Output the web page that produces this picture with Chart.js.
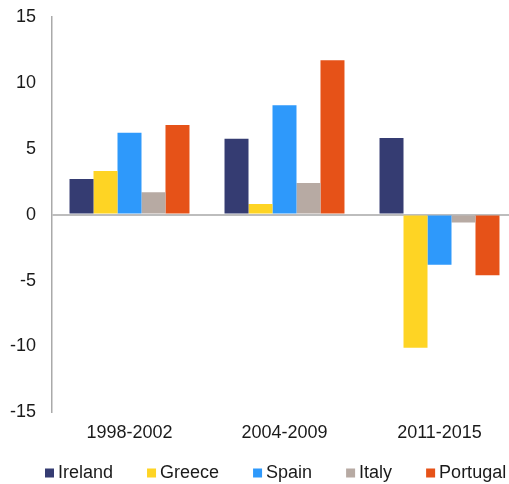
<!DOCTYPE html>
<html>
<head>
<meta charset="utf-8">
<script src="https://cdn.jsdelivr.net/npm/chart.js@4"></script>
<style>
  html, body { margin: 0; padding: 0; background: #fff; overflow: hidden; }
  #wrap { width: 509px; height: 484px; overflow: hidden; }
  #chart { display: block; margin-top: -10px; }
</style>
</head>
<body>
<div id="wrap"><canvas id="chart" width="517" height="494"></canvas></div>
<script>
// data
const periods = ["1998-2002", "2004-2009", "2011-2015"];
const countries = ["Ireland", "Greece", "Spain", "Italy", "Portugal"];
const ireland = [2.7, 5.75, 5.8];
const greece = [3.3, 0.8, -10.1];
const spain = [6.2, 8.3, -3.8];
const italy = [1.7, 2.4, -0.6];
const portugal = [6.8, 11.7, -4.6];
const yTicks = [-15, -10, -5, 0, 5, 10, 15];

const colors = ["#353c72", "#fed424", "#2e99fb", "#b7aaa3", "#e65218"];
const series = [ireland, greece, spain, italy, portugal];
const FONT = "'Liberation Sans', Arial, sans-serif";

// small legend drawn by hand so spacing matches
const legendPlugin = {
  id: "bottomLegend",
  afterDraw(chart) {
    const ctx = chart.ctx;
    ctx.save();
    ctx.font = "18px " + FONT;
    ctx.textBaseline = "middle";
    let x = 45;
    const y = 483;
    chart.data.datasets.forEach(ds => {
      ctx.fillStyle = ds.backgroundColor;
      ctx.fillRect(x, y - 4.5, 9, 9);
      ctx.fillStyle = "#1a1a1a";
      ctx.fillText(ds.label, x + 13, y);
      x += 13 + ctx.measureText(ds.label).width + 34;
    });
    ctx.restore();
  }
};

new Chart(document.getElementById("chart"), {
  type: "bar",
  data: {
    labels: periods,
    datasets: countries.map((c, i) => ({
      label: c,
      data: series[i],
      backgroundColor: colors[i],
      barPercentage: 1,
      categoryPercentage: 0.774
    }))
  },
  options: {
    responsive: false,
    animation: false,
    layout: { padding: { top: 0, right: 0, bottom: 38, left: 0 } },
    plugins: {
      legend: { display: false },
      tooltip: { enabled: false }
    },
    scales: {
      x: {
        grid: { display: false },
        border: { display: false },
        ticks: { color: "#1a1a1a", font: { family: FONT, size: 18 }, padding: 2 }
      },
      y: {
        min: -15,
        max: 15,
        afterFit(scale) { scale.width = 52; },
        afterBuildTicks(scale) { scale.ticks = yTicks.map(v => ({ value: v })); },
        grid: {
          drawTicks: false,
          color: c => c.tick && c.tick.value === 0 ? "#bdbdbd" : "rgba(0,0,0,0)",
          lineWidth: 2
        },
        border: { color: "#aaaaaa", width: 1.5 },
        ticks: { color: "#1a1a1a", font: { family: FONT, size: 18 }, padding: 16 }
      }
    }
  },
  plugins: [legendPlugin]
});
</script>
</body>
</html>
